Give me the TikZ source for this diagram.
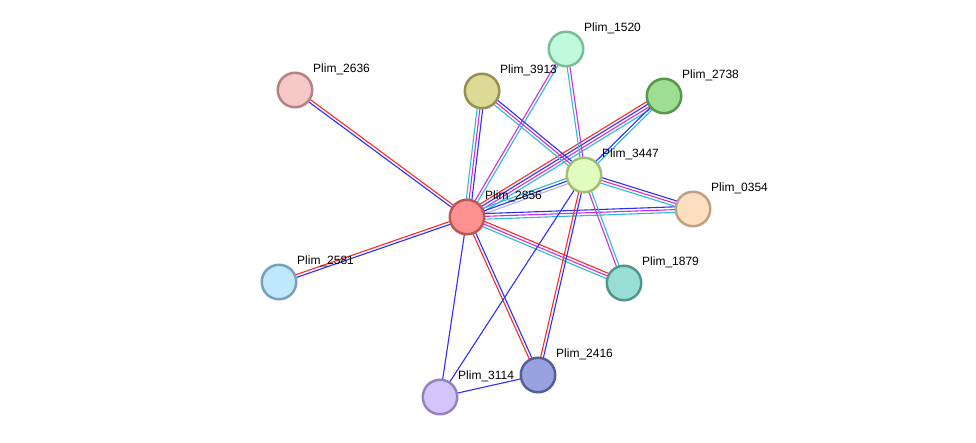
\documentclass[tikz,border=0pt]{standalone}
\usepackage{fontspec}
\setmainfont{Liberation Sans}
\usetikzlibrary{calc, backgrounds}
% link colours
\definecolor{ered}{RGB}{255,40,40}
\definecolor{eblue}{RGB}{45,45,255}
\definecolor{ecyan}{RGB}{45,185,215}
\definecolor{emag}{RGB}{205,45,225}
\definecolor{elav}{RGB}{175,175,250}
% protein colours, fill and border
\definecolor{f2856}{RGB}{255,145,145}\definecolor{b2856}{RGB}{190,85,85}
\definecolor{f3447}{RGB}{226,252,192}\definecolor{b3447}{RGB}{160,190,120}
\definecolor{f1520}{RGB}{192,250,220}\definecolor{b1520}{RGB}{120,190,150}
\definecolor{f3913}{RGB}{221,218,150}\definecolor{b3913}{RGB}{150,145,80}
\definecolor{f2738}{RGB}{157,222,145}\definecolor{b2738}{RGB}{90,150,80}
\definecolor{f2636}{RGB}{247,200,200}\definecolor{b2636}{RGB}{180,130,130}
\definecolor{f0354}{RGB}{252,222,192}\definecolor{b0354}{RGB}{190,160,130}
\definecolor{f1879}{RGB}{152,222,212}\definecolor{b1879}{RGB}{80,150,140}
\definecolor{f2581}{RGB}{192,232,252}\definecolor{b2581}{RGB}{120,160,190}
\definecolor{f2416}{RGB}{152,162,225}\definecolor{b2416}{RGB}{85,95,150}
\definecolor{f3114}{RGB}{212,196,252}\definecolor{b3114}{RGB}{150,130,190}
\tikzstyle{prot} = [draw, circle, minimum size=34.5pt, inner sep=0pt, line width=2.5pt]
\tikzstyle{lab} = [anchor=west, inner sep=0pt, font=\fontsize{12}{12}\selectfont]
\tikzstyle{edge} = [line width=1.1pt]
% protein: name, x, y
\newcommand{\prot}[3]{%
  \node [prot, fill=f#1, draw=b#1] (n#1) at (#2,#3) {};
  \node [lab] (l#1) at ($(n#1)+(18,-21)$) {Plim\_#1};}
% link: from, to, number of lines, colours
\newcommand{\plink}[4]{%
  \foreach \col [count=\i] in {#4} {
    \pgfmathsetmacro\off{(\i-(#3+1)/2)*2.8}
    \draw [edge, color=\col] ($(#1)!\off pt!90:(#2)$) -- ($(#2)!\off pt!-90:(#1)$);
  }}

\begin{document}
\begin{tikzpicture}[x=1pt, y=-1pt]
    \useasboundingbox (0,0) rectangle (976,443);
    % proteins
    \prot{2856}{467}{217}
    \prot{3447}{584}{175}
    \prot{1520}{566}{49}
    \prot{3913}{482}{91}
    \prot{2738}{664}{96}
    \prot{2636}{295}{90}
    \prot{0354}{693}{209}
    \prot{1879}{624}{283}
    \prot{2581}{279}{282}
    \prot{2416}{538}{375}
    \prot{3114}{440}{397}
    % links, behind the proteins
    \begin{pgfonlayer}{background}
        \plink{n2856}{n2636}{2}{ered,eblue}
        \plink{n2856}{n2581}{2}{ered,eblue}
        \plink{n2856}{n3913}{3}{eblue,emag,ecyan}
        \plink{n2856}{n1520}{2}{ecyan,emag}
        \plink{n2856}{n2738}{4}{ecyan,emag,eblue,ered}
        \plink{n2856}{n3447}{3}{elav,eblue,ecyan}
        \plink{n2856}{n0354}{3}{ecyan,emag,eblue}
        \plink{n2856}{n1879}{3}{ecyan,emag,ered}
        \plink{n2856}{n2416}{2}{ered,eblue}
        \plink{n2856}{n3114}{1}{eblue}
        \plink{n3913}{n3447}{3}{ecyan,emag,eblue}
        \plink{n1520}{n3447}{2}{ecyan,emag}
        \plink{n2738}{n3447}{2}{eblue,ecyan}
        \plink{n3447}{n0354}{3}{ecyan,emag,eblue}
        \plink{n3447}{n1879}{2}{emag,ecyan}
        \plink{n3447}{n2416}{2}{ered,eblue}
        \plink{n3447}{n3114}{1}{eblue}
        \plink{n3114}{n2416}{1}{eblue}
    \end{pgfonlayer}
\end{tikzpicture}
\end{document}
